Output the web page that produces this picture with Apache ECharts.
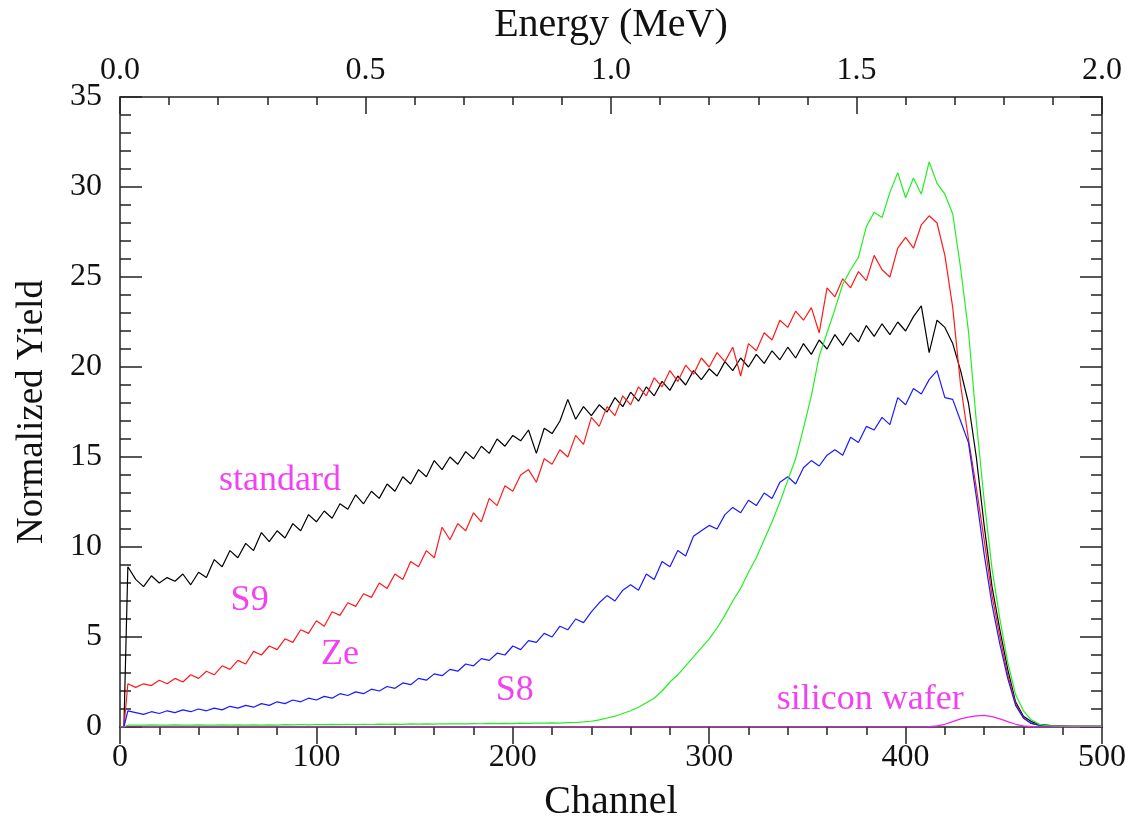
<!DOCTYPE html>
<html>
<head>
<meta charset="utf-8">
<script src="https://cdn.jsdelivr.net/npm/echarts@6/dist/echarts.min.js"></script>
<style>
html,body{margin:0;padding:0;background:#fff;}
#chart{width:1134px;height:823px;}
</style>
</head>
<body>
<div id="chart"></div>
<script>
// Channel grid (x values)
const channels = [
  0, 2, 4, 8, 12, 16, 20, 24, 28, 32,
  36, 40, 44, 48, 52, 56, 60, 64, 68, 72,
  76, 80, 84, 88, 92, 96, 100, 104, 108, 112,
  116, 120, 124, 128, 132, 136, 140, 144, 148, 152,
  156, 160, 164, 168, 172, 176, 180, 184, 188, 192,
  196, 200, 204, 208, 212, 216, 220, 224, 228, 232,
  236, 240, 244, 248, 252, 256, 260, 264, 268, 272,
  276, 280, 284, 288, 292, 296, 300, 304, 308, 312,
  316, 320, 324, 328, 332, 336, 340, 344, 348, 352,
  356, 360, 364, 368, 372, 376, 380, 384, 388, 392,
  396, 400, 404, 408, 412, 416, 420, 424, 428, 432,
  436, 440, 444, 448, 452, 456, 460, 464, 468, 472,
  476, 480, 484, 488, 492, 496, 500
];

const standard = [
  0, 0, 8.9, 8.2, 7.8, 8.4, 8.0, 8.3, 8.1, 8.5,
  7.9, 8.6, 8.3, 9.3, 8.9, 9.8, 9.4, 10.2, 9.8, 10.8,
  10.3, 10.9, 10.5, 11.3, 10.9, 11.8, 11.4, 12.0, 11.6, 12.4,
  12.1, 12.9, 12.4, 13.1, 12.7, 13.5, 13.1, 13.9, 13.5, 14.3,
  13.9, 14.8, 14.3, 15.0, 14.6, 15.3, 14.9, 15.6, 15.2, 16.0,
  15.6, 16.2, 15.9, 16.5, 15.2, 16.6, 16.3, 17.0, 18.2, 17.1,
  17.8, 17.3, 17.9, 17.5, 18.3, 17.8, 18.6, 18.1, 18.9, 18.4,
  19.2, 18.7, 19.5, 19.0, 19.8, 19.3, 19.9, 19.5, 20.3, 19.8,
  20.5, 20.0, 20.7, 20.2, 20.9, 20.4, 21.1, 20.5, 21.3, 20.7,
  21.5, 21.0, 21.8, 21.2, 21.9, 21.4, 22.3, 21.7, 22.4, 21.8,
  22.5, 22.0, 22.8, 23.4, 20.8, 22.6, 22.2, 21.3, 19.8, 18.0,
  15.0, 11.2, 7.8, 5.4, 3.2, 1.4, 0.6, 0.3, 0.15, 0.1,
  0.05, 0.05, 0.04, 0.03, 0.03, 0.03, 0.03
];

const s9 = [
  0, 0, 2.4, 2.2, 2.4, 2.3, 2.6, 2.4, 2.7, 2.5,
  2.9, 2.7, 3.1, 2.9, 3.4, 3.2, 3.7, 3.5, 4.2, 4.0,
  4.5, 4.3, 4.9, 4.7, 5.4, 5.2, 5.9, 5.6, 6.4, 6.2,
  6.9, 6.7, 7.4, 7.2, 8.0, 7.7, 8.5, 8.2, 9.2, 8.9,
  9.8, 9.4, 11.1, 10.4, 11.3, 10.9, 11.9, 11.4, 12.7, 12.3,
  13.4, 13.1, 14.0, 14.3, 13.6, 14.9, 14.6, 15.4, 15.0, 16.2,
  15.7, 17.2, 16.7, 17.8, 17.3, 18.4, 17.9, 18.9, 18.4, 19.4,
  18.9, 19.8, 19.2, 20.1, 19.6, 20.5, 20.0, 20.8, 20.3, 21.1,
  19.5, 21.3, 20.9, 21.9, 21.5, 22.6, 22.2, 23.1, 22.6, 23.3,
  21.9, 24.4, 23.9, 24.9, 24.4, 25.3, 24.8, 26.2, 25.4, 25.0,
  26.6, 27.2, 26.6, 27.9, 28.4, 28.0, 26.2, 23.3, 19.0, 16.0,
  13.3, 10.4, 7.3, 5.0, 2.9, 1.3, 0.5, 0.2, 0.1, 0.05,
  0.04, 0.03, 0.03, 0.03, 0.03, 0.03, 0.03
];

const s8 = [
  0, 0, 0.9, 0.8, 0.7, 0.85, 0.75, 0.9, 0.8, 0.95,
  0.85, 1.0, 0.9, 1.05, 0.95, 1.15, 1.05, 1.2, 1.1, 1.3,
  1.2, 1.4, 1.3, 1.5, 1.4, 1.6, 1.5, 1.7, 1.6, 1.85,
  1.75, 1.95, 1.85, 2.1, 2.0, 2.25, 2.15, 2.45, 2.35, 2.7,
  2.6, 2.95, 2.85, 3.2, 3.1, 3.5, 3.4, 3.8, 3.7, 4.1,
  4.0, 4.5, 4.3, 4.8, 4.7, 5.2, 5.0, 5.6, 5.4, 6.0,
  5.8, 6.4, 6.9, 7.3, 7.0, 7.6, 7.9, 7.6, 8.5, 8.2,
  9.2, 8.9, 9.8, 9.5, 10.6, 10.9, 11.2, 11.0, 11.8, 12.2,
  11.9, 12.6, 12.3, 13.0, 12.7, 13.6, 13.9, 13.5, 14.4, 14.8,
  14.5, 15.1, 15.4, 15.1, 16.1, 15.8, 16.7, 16.5, 17.2, 16.8,
  18.3, 17.9, 18.8, 18.5, 19.3, 19.8, 18.3, 18.2, 17.0, 15.8,
  12.8, 9.6, 6.8, 4.6, 2.7, 1.2, 0.5, 0.2, 0.1, 0.05,
  0.04, 0.03, 0.03, 0.03, 0.03, 0.03, 0.03
];

const ze = [
  0, 0, 0.1, 0.1, 0.1, 0.12, 0.1, 0.1, 0.12, 0.1,
  0.1, 0.12, 0.1, 0.1, 0.12, 0.1, 0.12, 0.1, 0.12, 0.1,
  0.12, 0.1, 0.13, 0.12, 0.14, 0.12, 0.14, 0.13, 0.15, 0.13,
  0.15, 0.14, 0.15, 0.14, 0.16, 0.15, 0.16, 0.15, 0.17, 0.16,
  0.17, 0.16, 0.18, 0.17, 0.18, 0.17, 0.19, 0.18, 0.2, 0.19,
  0.2, 0.19, 0.21, 0.2, 0.22, 0.21, 0.23, 0.22, 0.24, 0.25,
  0.28, 0.32, 0.4, 0.5, 0.6, 0.75, 0.9, 1.1, 1.35, 1.6,
  2.0, 2.5, 2.9, 3.4, 3.9, 4.4, 4.9, 5.5, 6.2, 7.0,
  7.7, 8.6, 9.4, 10.4, 11.4, 12.5, 13.7, 14.9, 16.6, 18.4,
  20.6, 21.9, 23.2, 24.6, 25.4, 26.1, 27.8, 28.6, 28.3, 29.7,
  30.8, 29.4, 30.5, 29.6, 31.4, 30.2, 29.6, 28.5, 25.5, 22.0,
  17.0, 12.6, 8.8, 6.0, 3.6, 1.8, 0.9, 0.4, 0.15, 0.08,
  0.05, 0.04, 0.03, 0.03, 0.03, 0.03, 0.03
];

const siliconWafer = [
  0, 0, 0, 0, 0, 0, 0, 0, 0, 0,
  0, 0, 0, 0, 0, 0, 0, 0, 0, 0,
  0, 0, 0, 0, 0, 0, 0, 0, 0, 0,
  0, 0, 0, 0, 0, 0, 0, 0, 0, 0,
  0, 0, 0, 0, 0, 0, 0, 0, 0, 0,
  0, 0, 0, 0, 0, 0, 0, 0, 0, 0,
  0, 0, 0, 0, 0, 0, 0, 0, 0, 0,
  0, 0, 0, 0, 0, 0, 0, 0, 0, 0,
  0, 0, 0, 0, 0, 0, 0, 0, 0, 0,
  0, 0, 0, 0, 0, 0, 0, 0, 0, 0,
  0, 0, 0, 0, 0.02, 0.06, 0.15, 0.3, 0.45, 0.55,
  0.62, 0.65, 0.58, 0.45, 0.3, 0.15, 0.06, 0.02, 0, 0,
  0, 0, 0, 0, 0, 0, 0
];

// Curve labels
const labelTexts = ['standard', 'S9', 'Ze', 'S8', 'silicon wafer'];
const labelChannels = [81.5, 66, 112, 201, 382];
const labelYields = [13.7, 7.0, 4.0, 2.0, 1.5];

const energyTicks = [0, 0.5, 1.0, 1.5, 2.0];

const FONT = "'Liberation Serif', 'Times New Roman', serif";
const AXIS_COLOR = '#222';

function pairs(vals) { return channels.map((c, i) => [c, vals[i]]); }

function lineSeries(name, vals, color, z) {
  return {
    name: name, type: 'line', xAxisIndex: 0, yAxisIndex: 0,
    data: pairs(vals), showSymbol: false, symbol: 'none',
    lineStyle: { color: color, width: 1.2 }, z: z, animation: false
  };
}

const chart = echarts.init(document.getElementById('chart'), null, { renderer: 'canvas' });

const axisLineStyle = { show: true, onZero: false, lineStyle: { color: AXIS_COLOR, width: 1.5 } };
const tickLine = { color: AXIS_COLOR, width: 1.5 };

chart.setOption({
  backgroundColor: '#fff',
  animation: false,
  grid: { left: 120, right: 32, top: 97, bottom: 96, containLabel: false, outerBoundsMode: 'none' },
  xAxis: [
    {
      type: 'value', position: 'bottom', min: 0, max: 500, interval: 100,
      axisLine: axisLineStyle,
      axisTick: { show: true, inside: false, length: 17, lineStyle: tickLine },
      minorTick: { show: true, splitNumber: 5, length: 8, lineStyle: tickLine },
      splitLine: { show: false },
      axisLabel: { fontFamily: FONT, fontSize: 32, color: '#111', margin: 15 },
      name: 'Channel', nameLocation: 'middle', nameGap: 55,
      nameTextStyle: { fontFamily: FONT, fontSize: 40, color: '#111' }
    },
    {
      type: 'value', position: 'top', min: energyTicks[0], max: energyTicks[energyTicks.length - 1], interval: 0.5,
      axisLine: axisLineStyle,
      axisTick: { show: true, inside: true, length: 17, lineStyle: tickLine },
      minorTick: { show: true, splitNumber: 5, length: 8, lineStyle: tickLine },
      splitLine: { show: false },
      axisLabel: { fontFamily: FONT, fontSize: 32, color: '#111', margin: 10,
        formatter: v => v.toFixed(1) },
      name: 'Energy (MeV)', nameLocation: 'middle', nameGap: 52,
      nameTextStyle: { fontFamily: FONT, fontSize: 40, color: '#111' }
    }
  ],
  yAxis: [
    {
      type: 'value', position: 'left', min: 0, max: 35, interval: 5,
      axisLine: axisLineStyle,
      axisTick: { show: true, inside: true, length: 22, lineStyle: tickLine },
      minorTick: { show: true, splitNumber: 5, length: 11, lineStyle: tickLine },
      splitLine: { show: false },
      axisLabel: { fontFamily: FONT, fontSize: 32, color: '#111', margin: 18 },
      name: 'Normalized Yield', nameLocation: 'middle', nameGap: 69,
      nameTextStyle: { fontFamily: FONT, fontSize: 37, color: '#111' }
    },
    {
      type: 'value', position: 'right', min: 0, max: 35, interval: 5,
      axisLine: axisLineStyle,
      axisTick: { show: true, inside: true, length: 22, lineStyle: tickLine },
      minorTick: { show: true, splitNumber: 5, length: 11, lineStyle: tickLine },
      splitLine: { show: false },
      axisLabel: { show: false }
    }
  ],
  series: [
    lineSeries('standard', standard, '#000000', 2),
    lineSeries('S9', s9, '#ff1a1a', 3),
    lineSeries('S8', s8, '#1a1aff', 4),
    lineSeries('Ze', ze, '#22ee22', 5),
    lineSeries('silicon wafer', siliconWafer, '#ee22ee', 6),
    {
      name: 'labels', type: 'scatter', xAxisIndex: 0, yAxisIndex: 0,
      symbolSize: 0, silent: true, z: 10,
      data: labelTexts.map((t, i) => ({ name: t, value: [labelChannels[i], labelYields[i]] })),
      label: { show: true, position: 'inside', formatter: p => p.name,
        fontFamily: FONT, fontSize: 36, color: '#ee11ee' }
    }
  ]
});
</script>
</body>
</html>
